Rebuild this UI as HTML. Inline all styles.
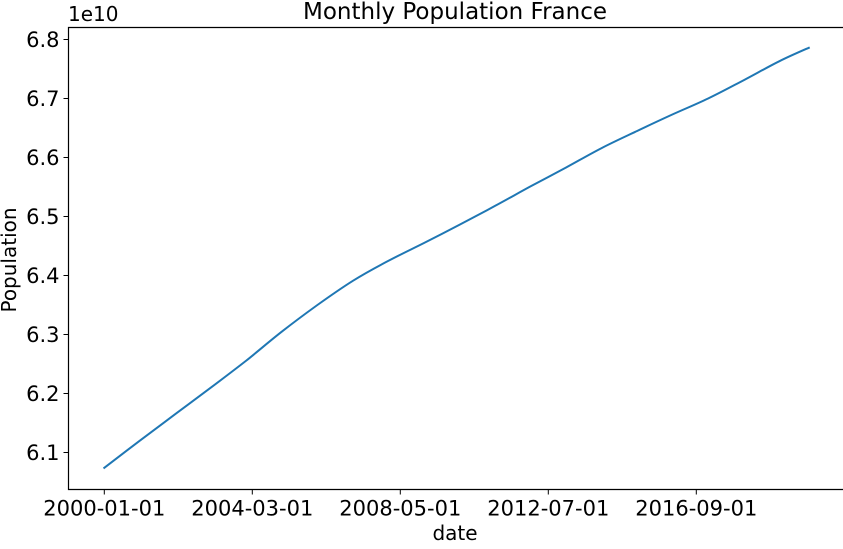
<!DOCTYPE html>
<html><head><meta charset="utf-8"><style>
html,body{margin:0;padding:0;background:#fff;overflow:hidden}
svg text{font-family:"DejaVu Sans","Liberation Sans",sans-serif;fill:#000}
</style></head><body>
<svg id="chart" width="843" height="544" xmlns="http://www.w3.org/2000/svg">
<text x="455" y="19" font-size="23" text-anchor="middle">Monthly Population France</text>
<text x="68" y="21" font-size="20">1e10</text>
<g id="plot"></g>
<text x="455" y="540" font-size="20" text-anchor="middle">date</text>
<text x="0" y="0" font-size="20" text-anchor="middle" transform="translate(16,260) rotate(-90)">Population</text>
</svg>
<script>
const monthIdx = [0,12,24,36,48,60,72,84,96,108,120,132,144,156,168,180,192,204,216,228,238];
const popValues = [6.074,6.120,6.165,6.210,6.256,6.305,6.350,6.391,6.425,6.455,6.486,6.518,6.551,6.583,6.616,6.645,6.673,6.700,6.731,6.763,6.786];
const yTicks = [6.1,6.2,6.3,6.4,6.5,6.6,6.7,6.8];
const xTickMonths = [0,50,100,150,200];
const xTickLabels = ["2000-01-01","2004-03-01","2008-05-01","2012-07-01","2016-09-01"];

const NS="http://www.w3.org/2000/svg";
const g=document.getElementById('plot');
const L=68.5,T=27.5,B=489.5,R=844.5;
const xs=m=>104.3+m*2.96;
const ys=v=>39.5+(6.8-v)*590;
function el(t,a){const e=document.createElementNS(NS,t);for(const k in a)e.setAttribute(k,a[k]);g.appendChild(e);return e;}

yTicks.forEach(v=>{
  const y=ys(v);
  const t=el('line',{x1:L-5,x2:L,y1:y,y2:y,stroke:'#000','stroke-width':1});
  
  
  const tx=el('text',{x:L-9,y:y+7.5,'font-size':21,'text-anchor':'end'});
  tx.textContent=v.toFixed(1);
  
  
});
xTickMonths.forEach((m,i)=>{
  const x=xs(m);
  const t=el('line',{x1:x,x2:x,y1:B,y2:B+5,stroke:'#000','stroke-width':1});
  
  
  const tx=el('text',{x:x,y:B+26,'font-size':21,'text-anchor':'middle'});
  tx.textContent=xTickLabels[i];
  
  
});
const P=monthIdx.map((m,i)=>[xs(m),ys(popValues[i])]);
let d=`M${P[0][0].toFixed(1)},${P[0][1].toFixed(1)}`;
for(let i=0;i<P.length-1;i++){
  const p0=P[Math.max(0,i-1)],p1=P[i],p2=P[i+1],p3=P[Math.min(P.length-1,i+2)];
  const c1=[p1[0]+(p2[0]-p0[0])/6,p1[1]+(p2[1]-p0[1])/6];
  const c2=[p2[0]-(p3[0]-p1[0])/6,p2[1]-(p3[1]-p1[1])/6];
  d+=` C${c1[0].toFixed(1)},${c1[1].toFixed(1)} ${c2[0].toFixed(1)},${c2[1].toFixed(1)} ${p2[0].toFixed(1)},${p2[1].toFixed(1)}`;
}
const line=el('path',{d:d,fill:'none',stroke:'#1f77b4','stroke-width':2,'stroke-linejoin':'round','stroke-linecap':'square'});


const frame=el('path',{d:`M${L},${T}V${B}H${R}V${T}Z`,fill:'none',stroke:'#000','stroke-width':1.2});


</script>
</body></html>
